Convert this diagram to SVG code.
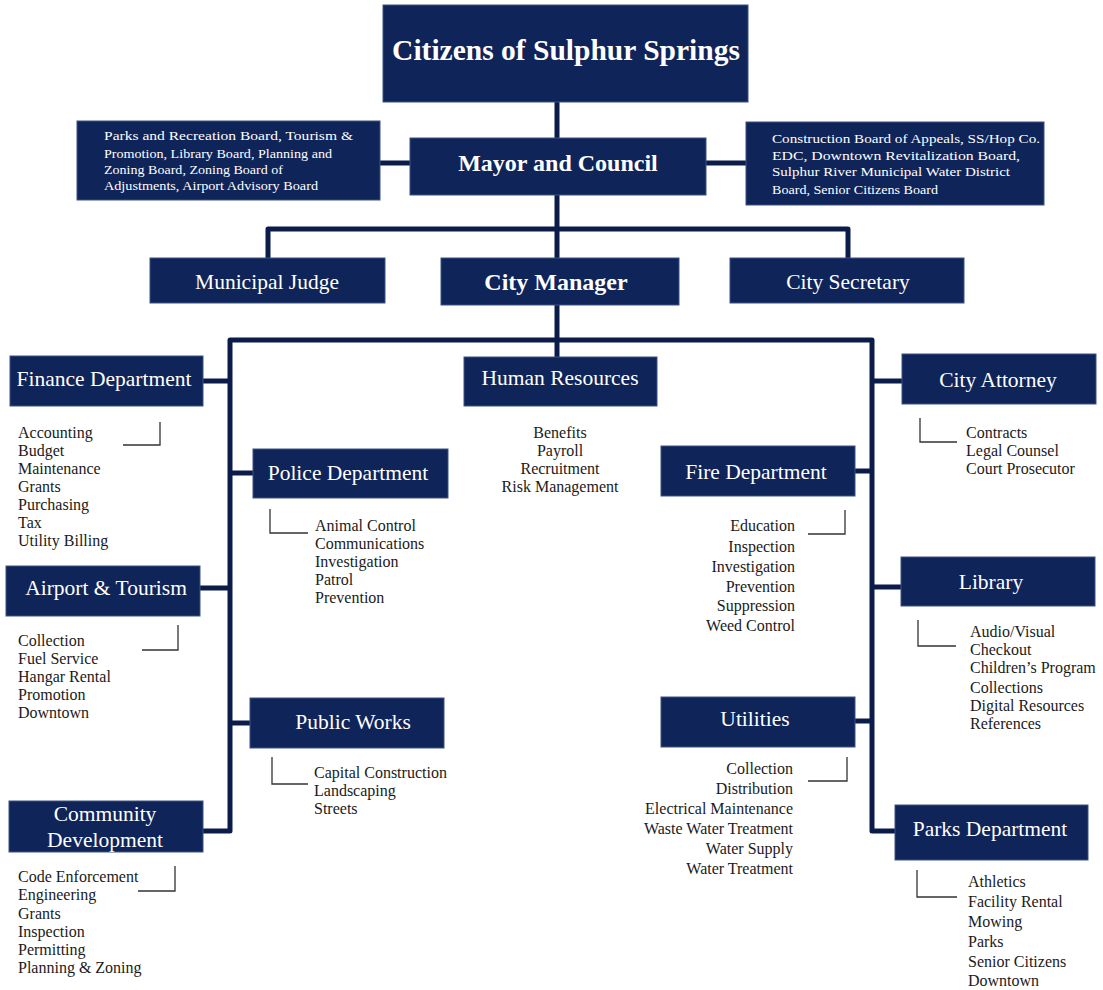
<svg xmlns="http://www.w3.org/2000/svg" width="1103" height="990" viewBox="0 0 1103 990">
<style>
.box{fill:#0f2459;stroke:#3d5283;stroke-width:1}
.t{font-family:"Liberation Serif","Times New Roman",serif;fill:#ffffff;text-anchor:middle}
.r{font-size:21.5px}
.b{font-weight:bold}
.bd{font-family:"Liberation Serif","Times New Roman",serif;fill:#ffffff;font-size:13px}
.li{font-family:"Liberation Serif","Times New Roman",serif;fill:#1a1a1a;font-size:16px}
.conn{stroke:#0b1c4a;stroke-width:5;fill:none;stroke-linejoin:round}
.br{stroke:#333333;stroke-width:1.3;fill:none}
</style>
<rect width="1103" height="990" fill="#ffffff"/>
<g id="connectors">
<path class="conn" d="M557 102 V258"/>
<path class="conn" d="M380 163 H410 M706 163 H746"/>
<path class="conn" d="M268 258 V229 H848 V258"/>
<path class="conn" d="M557 305 V357"/>
<path class="conn" d="M203 831 H230 V340 H872 V831 H895"/>
<path class="conn" d="M203 381 H230 M230 473 H253 M200 588 H230 M230 723 H250"/>
<path class="conn" d="M872 381 H902 M855 471 H872 M872 587 H901 M855 721 H872"/>
</g>
<g id="brackets">
<path class="br" d="M160 422 V445 H123"/>
<path class="br" d="M270 509 V533 H308"/>
<path class="br" d="M178 625 V650 H142"/>
<path class="br" d="M272 757 V784 H308"/>
<path class="br" d="M175 866 V891 H138"/>
<path class="br" d="M845 510 V534 H808"/>
<path class="br" d="M920 418 V442 H957"/>
<path class="br" d="M918 620 V646 H956"/>
<path class="br" d="M847 757 V781 H808"/>
<path class="br" d="M917 870 V897 H957"/>
</g>
<g id="citizens"><rect class="box" x="383" y="5" width="365" height="97"/><text class="t b" x="566" y="60" font-size="29.5">Citizens of Sulphur Springs</text></g>
<g id="mayor"><rect class="box" x="410" y="138" width="296" height="57"/><text class="t b" x="558" y="171" font-size="24">Mayor and Council</text></g>
<g id="boards-left"><rect class="box" x="77" y="121" width="303" height="79"/>
<text class="bd" x="104" y="140" textLength="249" lengthAdjust="spacingAndGlyphs">Parks and Recreation Board, Tourism &amp;</text>
<text class="bd" x="104" y="158" textLength="228" lengthAdjust="spacingAndGlyphs">Promotion, Library Board, Planning and</text>
<text class="bd" x="104" y="174" textLength="179" lengthAdjust="spacingAndGlyphs">Zoning Board, Zoning Board of</text>
<text class="bd" x="104" y="190" textLength="214" lengthAdjust="spacingAndGlyphs">Adjustments, Airport Advisory Board</text></g>
<g id="boards-right"><rect class="box" x="746" y="122" width="298" height="83"/>
<text class="bd" x="772" y="143" textLength="268" lengthAdjust="spacingAndGlyphs">Construction Board of Appeals, SS/Hop Co.</text>
<text class="bd" x="772" y="160" textLength="248" lengthAdjust="spacingAndGlyphs">EDC, Downtown Revitalization Board,</text>
<text class="bd" x="772" y="176" textLength="238" lengthAdjust="spacingAndGlyphs">Sulphur River Municipal Water District</text>
<text class="bd" x="772" y="194" textLength="166" lengthAdjust="spacingAndGlyphs">Board, Senior Citizens Board</text></g>
<g id="judge"><rect class="box" x="150" y="258" width="235" height="45"/><text class="t r" x="267" y="289">Municipal Judge</text></g>
<g id="manager"><rect class="box" x="441" y="258" width="238" height="47"/><text class="t b" x="556" y="290" font-size="24">City Manager</text></g>
<g id="secretary"><rect class="box" x="730" y="258" width="234" height="45"/><text class="t r" x="848" y="289">City Secretary</text></g>
<g id="hr"><rect class="box" x="464" y="357" width="193" height="49"/><text class="t r" x="560" y="385">Human Resources</text>
<text class="li" x="560" y="438" text-anchor="middle">Benefits</text><text class="li" x="560" y="456" text-anchor="middle">Payroll</text><text class="li" x="560" y="474" text-anchor="middle">Recruitment</text><text class="li" x="560" y="492" text-anchor="middle">Risk Management</text></g>
<g id="finance"><rect class="box" x="10" y="356" width="193" height="50"/><text class="t r" x="104" y="386">Finance Department</text>
<text class="li" x="18" y="438">Accounting</text><text class="li" x="18" y="456">Budget</text><text class="li" x="18" y="474">Maintenance</text><text class="li" x="18" y="492">Grants</text><text class="li" x="18" y="510">Purchasing</text><text class="li" x="18" y="528">Tax</text><text class="li" x="18" y="546">Utility Billing</text></g>
<g id="police"><rect class="box" x="253" y="449" width="195" height="49"/><text class="t r" x="348" y="480">Police Department</text>
<text class="li" x="315" y="531">Animal Control</text><text class="li" x="315" y="549">Communications</text><text class="li" x="315" y="567">Investigation</text><text class="li" x="315" y="585">Patrol</text><text class="li" x="315" y="603">Prevention</text></g>
<g id="airport"><rect class="box" x="6" y="566" width="194" height="50"/><text class="t r" x="106" y="595">Airport &amp; Tourism</text>
<text class="li" x="18" y="646">Collection</text><text class="li" x="18" y="664">Fuel Service</text><text class="li" x="18" y="682">Hangar Rental</text><text class="li" x="18" y="700">Promotion</text><text class="li" x="18" y="718">Downtown</text></g>
<g id="publicworks"><rect class="box" x="250" y="698" width="194" height="50"/><text class="t r" x="353" y="729">Public Works</text>
<text class="li" x="314" y="778">Capital Construction</text><text class="li" x="314" y="796">Landscaping</text><text class="li" x="314" y="814">Streets</text></g>
<g id="community"><rect class="box" x="9" y="801" width="194" height="51"/><text class="t r" x="105" y="821">Community</text><text class="t r" x="105" y="847">Development</text>
<text class="li" x="18" y="882">Code Enforcement</text><text class="li" x="18" y="900">Engineering</text><text class="li" x="18" y="919">Grants</text><text class="li" x="18" y="937">Inspection</text><text class="li" x="18" y="955">Permitting</text><text class="li" x="18" y="973">Planning &amp; Zoning</text></g>
<g id="attorney"><rect class="box" x="902" y="354" width="194" height="50"/><text class="t r" x="998" y="387">City Attorney</text>
<text class="li" x="966" y="438">Contracts</text><text class="li" x="966" y="456">Legal Counsel</text><text class="li" x="966" y="474">Court Prosecutor</text></g>
<g id="fire"><rect class="box" x="661" y="446" width="194" height="50"/><text class="t r" x="756" y="479">Fire Department</text>
<g text-anchor="end"><text class="li" x="795" y="531">Education</text><text class="li" x="795" y="552">Inspection</text><text class="li" x="795" y="572">Investigation</text><text class="li" x="795" y="592">Prevention</text><text class="li" x="795" y="611">Suppression</text><text class="li" x="795" y="631">Weed Control</text></g></g>
<g id="library"><rect class="box" x="901" y="557" width="194" height="49"/><text class="t r" x="991" y="589">Library</text>
<text class="li" x="970" y="637">Audio/Visual</text><text class="li" x="970" y="655">Checkout</text><text class="li" x="970" y="673">Children’s Program</text><text class="li" x="970" y="693">Collections</text><text class="li" x="970" y="711">Digital Resources</text><text class="li" x="970" y="729">References</text></g>
<g id="utilities"><rect class="box" x="661" y="697" width="194" height="50"/><text class="t r" x="755" y="726">Utilities</text>
<g text-anchor="end"><text class="li" x="793" y="774">Collection</text><text class="li" x="793" y="794">Distribution</text><text class="li" x="793" y="814">Electrical Maintenance</text><text class="li" x="793" y="834">Waste Water Treatment</text><text class="li" x="793" y="854">Water Supply</text><text class="li" x="793" y="874">Water Treatment</text></g></g>
<g id="parks"><rect class="box" x="895" y="805" width="193" height="55"/><text class="t r" x="990" y="836">Parks Department</text>
<text class="li" x="968" y="887">Athletics</text><text class="li" x="968" y="907">Facility Rental</text><text class="li" x="968" y="927">Mowing</text><text class="li" x="968" y="947">Parks</text><text class="li" x="968" y="967">Senior Citizens</text><text class="li" x="968" y="986">Downtown</text></g>
</svg>
